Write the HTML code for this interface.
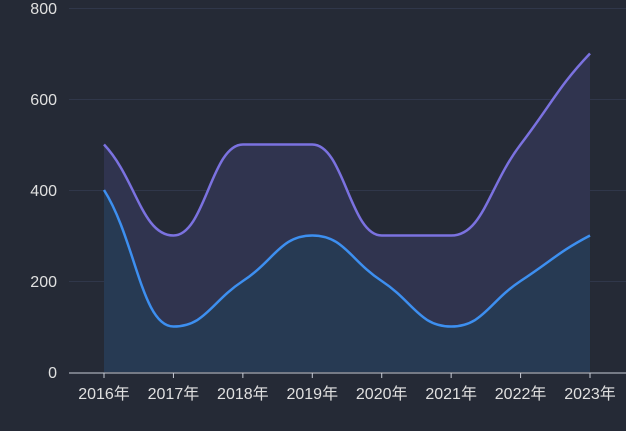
<!DOCTYPE html><html><head><meta charset="utf-8"><style>
html,body{margin:0;padding:0;background:#252a36;}
</style></head><body>
<svg id="s" width="626" height="431" xmlns="http://www.w3.org/2000/svg" style="display:block;font-family:'Liberation Sans','Noto Sans CJK SC',sans-serif;font-size:16px;">
<rect width="626" height="431" fill="#252a36"/>
<g stroke="#30374a" stroke-width="1">
<line x1="69" y1="8.5" x2="626" y2="8.5"/><line x1="69" y1="99.5" x2="626" y2="99.5"/>
<line x1="69" y1="190.5" x2="626" y2="190.5"/><line x1="69" y1="281.5" x2="626" y2="281.5"/>
</g>
<g fill="#e0e0e0" text-anchor="end">
<text x="57" y="14">800</text><text x="57" y="105">600</text><text x="57" y="196">400</text><text x="57" y="287">200</text><text x="57" y="378">0</text>
</g>
<g id="series"></g>
<line x1="69" y1="373" x2="626" y2="373" stroke="#c8ccd6" stroke-width="1"/>
<g id="ticks" stroke="#c8ccd6"></g>
<g id="xl" fill="#e0e0e0" text-anchor="middle"></g>
</svg>
<script>
var X=i=>104+i*69.43, Y=v=>372-v*0.455;
var A=[500,300,500,500,300,300,500,700],B=[400,100,200,300,200,100,200,300];
function path(d){var p=d.map((v,i)=>[X(i),Y(v)]);var s="M"+p[0][0]+","+p[0][1];var n=p.length;
var t=p.map((q,i)=>{if(i==0)return (p[1][1]-p[0][1])/(p[1][0]-p[0][0])*0.8;if(i==n-1)return (p[n-1][1]-p[n-2][1])/(p[n-1][0]-p[n-2][0])*0.8;var a=d[i-1],b=d[i],c=d[i+1];
if((b-a)*(c-b)<=0)return 0;return (p[i+1][1]-p[i-1][1])/(p[i+1][0]-p[i-1][0]);});
for(var i=0;i<n-1;i++){var dx=(p[i+1][0]-p[i][0])/2.2;
s+=" C"+(p[i][0]+dx)+","+(p[i][1]+t[i]*dx)+" "+(p[i+1][0]-dx)+","+(p[i+1][1]-t[i+1]*dx)+" "+p[i+1][0]+","+p[i+1][1];}
return s;}
var g=document.getElementById("series"),h="";
var pa=path(A),pb=path(B);
h+='<path d="'+pa+' L'+X(7)+',372 L'+X(0)+',372Z" fill="#30344f"/>';
h+='<path d="'+pb+' L'+X(7)+',372 L'+X(0)+',372Z" fill="#273a53"/>';
h+='<path d="'+pa+'" fill="none" stroke="#7b72e0" stroke-width="2.5"/>';
h+='<path d="'+pb+'" fill="none" stroke="#3d8ff0" stroke-width="2.5"/>';
g.innerHTML=h;
var tk="",xl="";for(var i=0;i<8;i++){tk+='<line x1="'+X(i)+'" y1="373" x2="'+X(i)+'" y2="378"/>';xl+='<text x="'+X(i)+'" y="399">'+(2016+i)+'年</text>';}
document.getElementById("ticks").innerHTML=tk;document.getElementById("xl").innerHTML=xl;
</script>
</body></html>
